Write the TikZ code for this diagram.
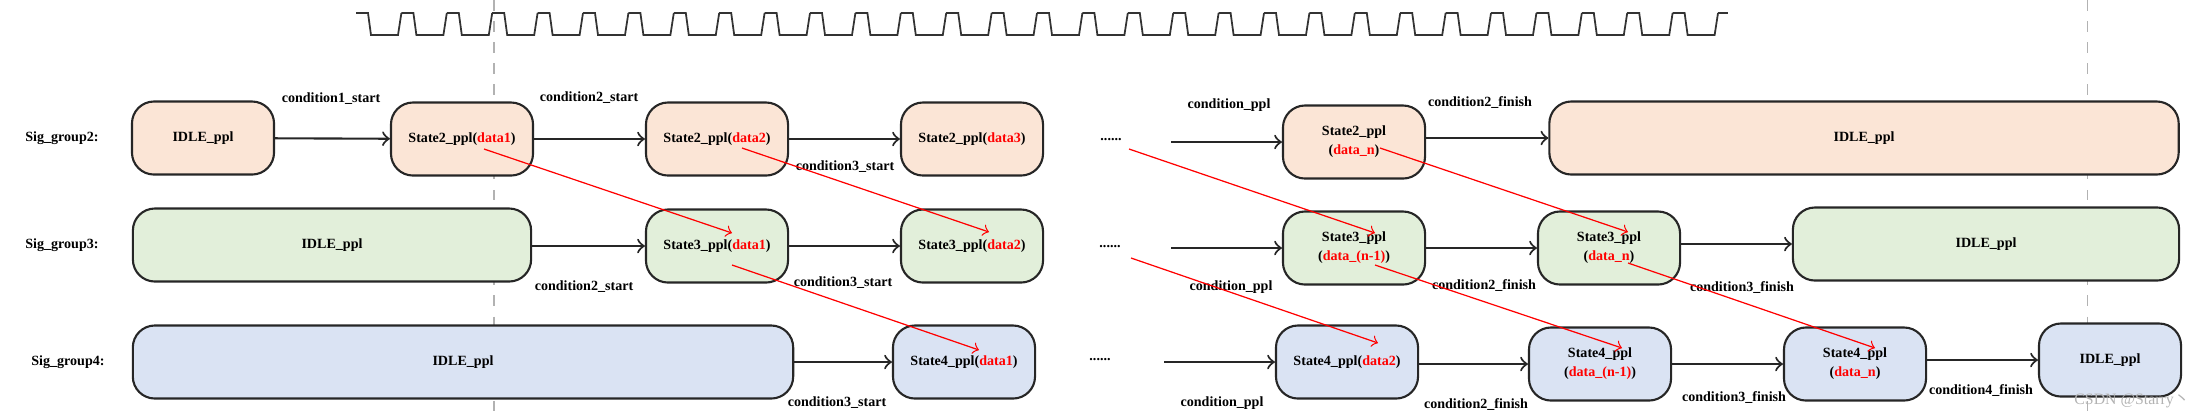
\documentclass[tikz,border=0pt]{standalone}
\usepackage{fontspec}
\setmainfont{Liberation Serif}
\newfontfamily\cjk{Noto Sans CJK SC}
\usetikzlibrary{arrows,positioning}
\definecolor{peach}{HTML}{FBE5D6}
\definecolor{mint}{HTML}{E2EFDA}
\definecolor{lav}{HTML}{DAE3F3}
\tikzset{
 st/.style={draw=black!85,line width=0.6pt,rounded corners=0.22cm,minimum width=1.42cm,minimum height=0.73cm,align=center,inner sep=0pt,font=\fontsize{4}{5.4}\selectfont\bfseries},
 r2/.style={st,fill=peach},
 r3/.style={st,fill=mint},
 r4/.style={st,fill=lav},
 lb/.style={font=\fontsize{4}{5}\selectfont\bfseries,inner sep=0pt},
 go/.style={->,line width=0.6pt,draw=black!85},
 pp/.style={->,red,line width=0.35pt}
}
\newcommand{\dt}[1]{\textcolor{red}{#1}}
\begin{document}
\begin{tikzpicture}[x=0.01cm,y=-0.01cm]
 \useasboundingbox (0,0) rectangle (2192,417);
 % guides
 \draw[gray!60,dashed,line width=0.3pt] (494,0) -- (494,417);
 \draw[gray!60,dashed,line width=0.3pt] (2087,0) -- (2087,417);
 % clock
 \foreach \i in {0,...,29} {
  \draw[black!80,line width=0.5pt] ({356+45.4*\i},13) -- ++(12,0) -- ++(3,22) -- ++(27,0) -- ++(3.4,-22);
 }
 \draw[black!80,line width=0.5pt] (1718,13) -- ++(10,0);
 % row labels
 \node[lb] (g2) at (62,138) {Sig\_group2:};
 \node[lb] (g3) at (62,245) {Sig\_group3:};
 \node[lb] (g4) at (68,362) {Sig\_group4:};
 % Sig_group2
 \node[r2] (a0) at (203,138) {IDLE\_ppl};
 \node[r2] (a1) at (462,139) {State2\_ppl(\dt{data1})};
 \node[r2] (a2) at (717,139) {State2\_ppl(\dt{data2})};
 \node[r2] (a3) at (972,139) {State2\_ppl(\dt{data3})};
 \node[lb] (ad) at (1111,140) {......};
 \coordinate (ae) at (1171,142);
 \node[r2] (a4) at (1354,142) {State2\_ppl\\(\dt{data\_n})};
 \node[r2,minimum width=6.29cm] (a5) at (1864,138) {IDLE\_ppl};
 \draw[go] (a0) -- (a1);
 \draw[go] (a1) -- (a2);
 \draw[go] (a2) -- (a3);
 \draw[go] (ae) -- (a4.west|-ae);
 \draw[go] (a4.east|-a5) -- (a5);
 \node[lb] (ca1) at (331,99) {condition1\_start};
 \node[lb] (ca2) at (589,98) {condition2\_start};
 \node[lb] (ca3) at (845,167) {condition3\_start};
 \node[lb] (ca4) at (1229,105) {condition\_ppl};
 \node[lb] (ca5) at (1480,103) {condition2\_finish};
 % Sig_group3
 \node[r3,minimum width=3.98cm] (b0) at (332,245) {IDLE\_ppl};
 \node[r3] (b1) at (717,246) {State3\_ppl(\dt{data1})};
 \node[r3] (b2) at (972,246) {State3\_ppl(\dt{data2})};
 \node[lb] (bd) at (1110,247) {......};
 \coordinate (be) at (1171,248);
 \node[r3] (b3) at (1354,248) {State3\_ppl\\(\dt{data\_(n-1)})};
 \node[r3] (b4) at (1609,248) {State3\_ppl\\(\dt{data\_n})};
 \node[r3,minimum width=3.86cm] (b5) at (1986,244) {IDLE\_ppl};
 \draw[go] (b0.east|-b1) -- (b1);
 \draw[go] (b1) -- (b2);
 \draw[go] (be) -- (b3);
 \draw[go] (b3) -- (b4);
 \draw[go] (b4.east|-b5) -- (b5);
 \node[lb] (cb1) at (584,287) {condition2\_start};
 \node[lb] (cb2) at (843,283) {condition3\_start};
 \node[lb] (cb3) at (1231,287) {condition\_ppl};
 \node[lb] (cb4) at (1484,286) {condition2\_finish};
 \node[lb] (cb5) at (1742,288) {condition3\_finish};
 % Sig_group4
 \node[r4,minimum width=6.6cm] (c0) at (463,362) {IDLE\_ppl};
 \node[r4] (c1) at (964,362) {State4\_ppl(\dt{data1})};
 \node[lb] (cd) at (1100,360) {......};
 \coordinate (ce) at (1164,362);
 \node[r4] (c2) at (1347,362) {State4\_ppl(\dt{data2})};
 \node[r4] (c3) at (1600,364) {State4\_ppl\\(\dt{data\_(n-1)})};
 \node[r4] (c4) at (1855,364) {State4\_ppl\\(\dt{data\_n})};
 \node[r4] (c5) at (2110,360) {IDLE\_ppl};
 \draw[go] (c0.east|-c1) -- (c1);
 \draw[go] (ce) -- (c2);
 \draw[go] (c2.east|-c3) -- (c3);
 \draw[go] (c3) -- (c4);
 \draw[go] (c4.east|-c5) -- (c5);
 \node[lb] (cc1) at (837,403) {condition3\_start};
 \node[lb] (cc2) at (1222,403) {condition\_ppl};
 \node[lb] (cc3) at (1476,405) {condition2\_finish};
 \node[lb] (cc4) at (1734,398) {condition3\_finish};
 \node[lb] (cc5) at (1981,391) {condition4\_finish};
 % data hand-over
 \draw[pp] ([shift={(22,10)}]a1.center) -- ([shift={(15,-13)}]b1.center);
 \draw[pp] ([shift={(25,9)}]a2.center) -- ([shift={(17,-14)}]b2.center);
 \draw[pp] ([shift={(15,19)}]b1.center) -- ([shift={(15,-12)}]c1.center);
 \draw[pp] ([shift={(-225,7)}]a4.center) -- ([shift={(21,-15)}]b3.center);
 \draw[pp] ([shift={(26,6)}]a4.center) -- ([shift={(19,-16)}]b4.center);
 \draw[pp] ([shift={(-223,10)}]b3.center) -- ([shift={(31,-19)}]c2.center);
 \draw[pp] ([shift={(21,17)}]b3.center) -- ([shift={(22,-16)}]c3.center);
 \draw[pp] ([shift={(19,15)}]b4.center) -- ([shift={(20,-16)}]c4.center);
 % watermark
 \node[text=gray!60,font=\fontsize{4.5}{5}\selectfont,inner sep=0pt] (wm) at (2132,401) {CSDN @Starry{\cjk 丶}};
\end{tikzpicture}
\end{document}
